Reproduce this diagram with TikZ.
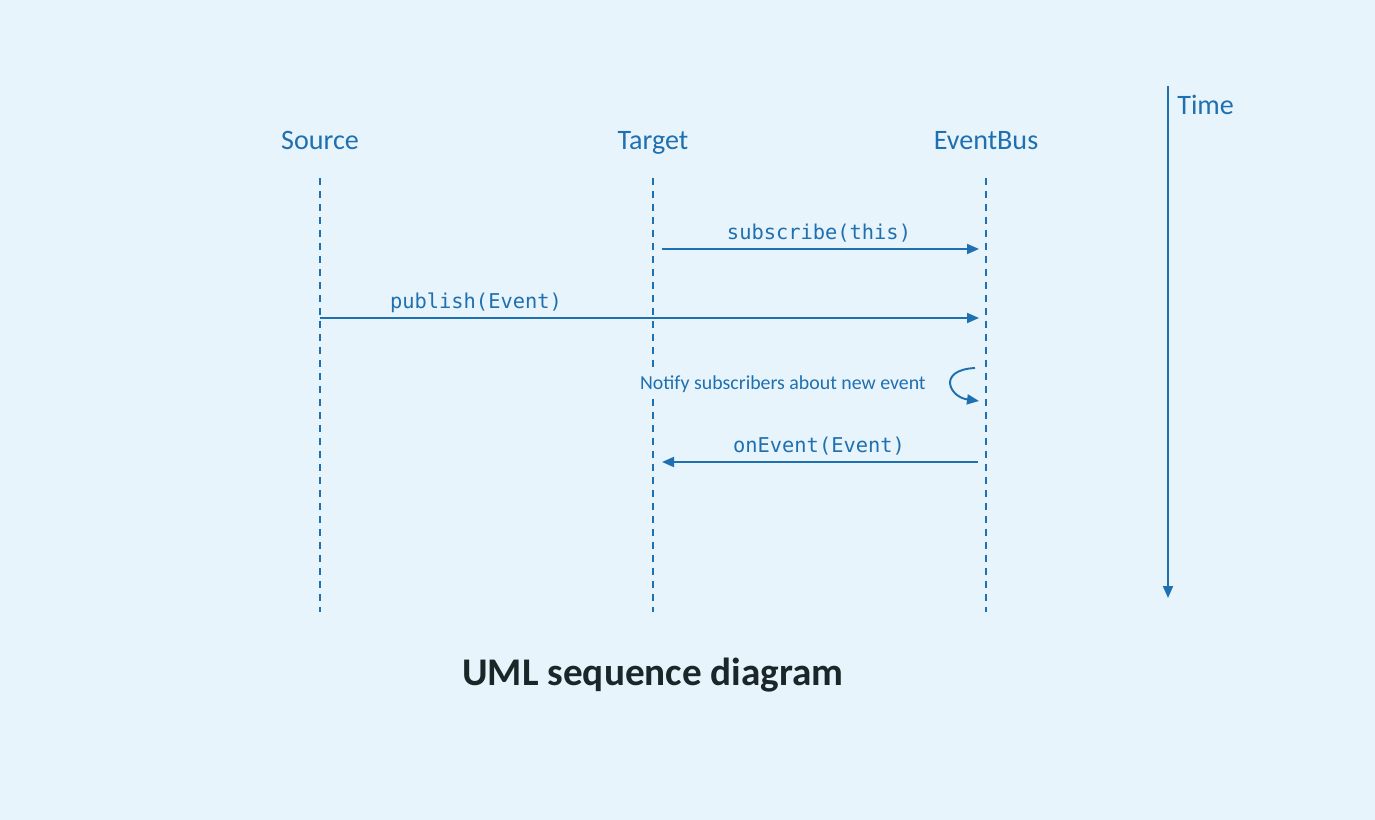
\documentclass[tikz,border=0pt]{standalone}
\usepackage{fontspec}
\setmainfont{Carlito}
\setmonofont{DejaVu Sans Mono}
\usetikzlibrary{arrows.meta}
\usetikzlibrary{positioning}

\definecolor{umlblue}{RGB}{31,112,176}
\definecolor{umlback}{RGB}{232,244,252}
\definecolor{umltitle}{RGB}{26,38,40}

\tikzset{
    actor/.style={text=umlblue, font=\fontsize{16}{19}\selectfont, inner sep=0pt, anchor=base},
    msglabel/.style={text=umlblue, font=\ttfamily\fontsize{11.6}{13}\selectfont, inner sep=0pt, anchor=base},
    lifeline/.style={umlblue, line width=1.1pt, dash pattern=on 0.14cm off 0.12cm},
    msg/.style={umlblue, line width=1.1pt, -{Triangle[length=0.24cm, width=0.2cm]}}
}

\begin{document}
\begin{tikzpicture}[x=0.02cm, y=-0.02cm]
    \fill[umlback] (0,0) rectangle (1375,820);
    \useasboundingbox (0,0) rectangle (1375,820);

    % Lifelines
    \foreach \n/\x/\t in {src/320/Source, tgt/653/Target, bus/986/EventBus} {
        \node[actor] (\n) at (\x,150) {\t};
        \draw[lifeline] (\x,178) -- (\x,612);
    }

    % Time axis
    \coordinate (timeTop) at (1168,86);
    \coordinate (timeEnd) at (1168,598);
    \draw[msg] (timeTop) -- (timeEnd);
    \node[actor, anchor=base west] (time) at (1177,115) {Time};

    % Messages
    \coordinate (subA) at (662,249);
    \coordinate (subB) at (979,249);
    \draw[msg] (subA) -- (subB);
    \node[msglabel] (subLabel) at (819,240) {subscribe(this)};

    \coordinate (pubA) at (320,318);
    \coordinate (pubB) at (979,318);
    \draw[msg] (pubA) -- (pubB);
    \node[msglabel] (pubLabel) at (476,309) {publish(Event)};

    \coordinate (loopA) at (975,368);
    \coordinate (loopB) at (979,401);
    \draw[msg] (loopA) .. controls +(-38,2) and +(-30,-4) .. (loopB);
    \node[actor, anchor=base east, fill=umlback, inner sep=2pt, font=\fontsize{11.3}{13}\selectfont] (notify) at (929.5,390) {Notify subscribers about new event};

    \coordinate (evtA) at (978,462);
    \coordinate (evtB) at (662,462);
    \draw[msg] (evtA) -- (evtB);
    \node[msglabel] (evtLabel) at (819,453) {onEvent(Event)};

    \node[anchor=base, text=umltitle, inner sep=0pt, font=\bfseries\fontsize{22.3}{26}\selectfont] (title) at (653,685) {UML sequence diagram};
\end{tikzpicture}
\end{document}
